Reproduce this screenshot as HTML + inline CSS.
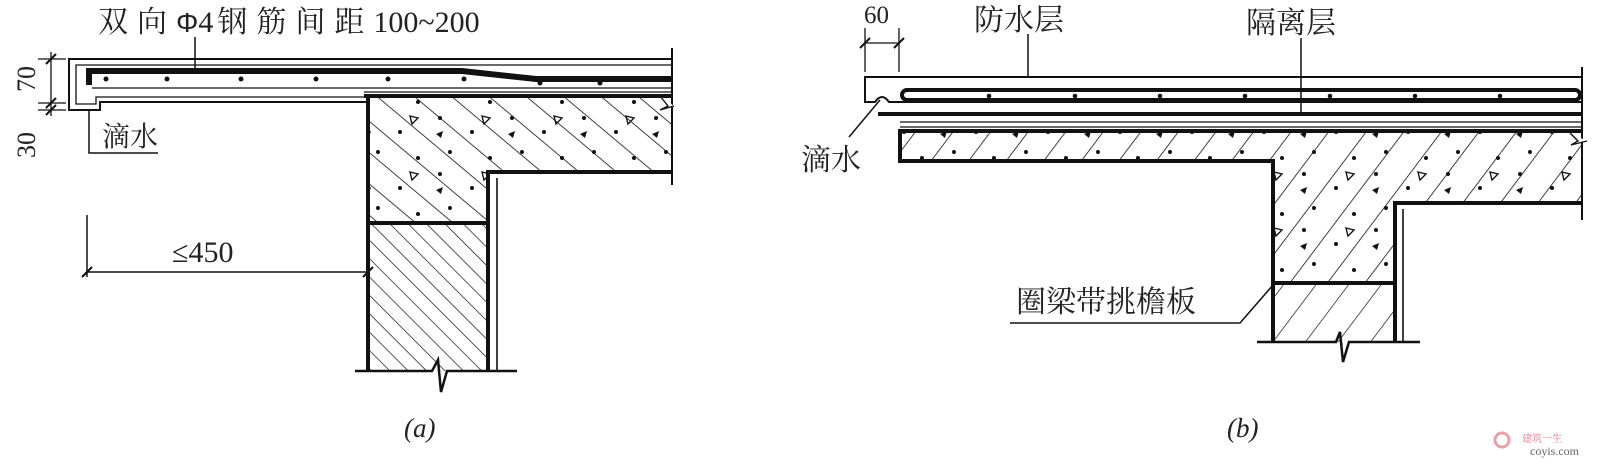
<!DOCTYPE html>
<html><head><meta charset="utf-8"><style>
html,body{margin:0;padding:0;background:#fff;}
svg{display:block;}
text{font-family:"Liberation Serif","Noto Serif CJK SC",serif;fill:#222;}
</style></head><body>
<svg width="1600" height="470" viewBox="0 0 1600 470" xmlns="http://www.w3.org/2000/svg">
<defs>
<pattern id="ca" patternUnits="userSpaceOnUse" width="24" height="20" patternTransform="rotate(-50)"><line x1="0" y1="-5" x2="0" y2="25" stroke="#111" stroke-width="1.6"/></pattern>
<pattern id="ba" patternUnits="userSpaceOnUse" width="13" height="20" patternTransform="rotate(-45)"><line x1="0" y1="-5" x2="0" y2="25" stroke="#111" stroke-width="1.4"/></pattern>
<pattern id="cb" patternUnits="userSpaceOnUse" width="30" height="20" patternTransform="rotate(37)"><line x1="0" y1="-5" x2="0" y2="25" stroke="#111" stroke-width="1.6"/></pattern>
<pattern id="cbs" patternUnits="userSpaceOnUse" width="26" height="20" patternTransform="rotate(37)"><line x1="0" y1="-5" x2="0" y2="25" stroke="#111" stroke-width="1.4"/></pattern>
<pattern id="dots" patternUnits="userSpaceOnUse" width="72" height="56">
<circle cx="8" cy="6" r="2" fill="#111"/><circle cx="40" cy="20" r="2" fill="#111"/><circle cx="18" cy="40" r="2" fill="#111"/><circle cx="58" cy="46" r="2" fill="#111"/><path d="M50 4 l8 2 -6 6z" fill="none" stroke="#111" stroke-width="1.4"/><path d="M4 22 l7 -3 -2 7z" fill="#111"/>
</pattern>
</defs>

<!-- ===== Panel (a) ===== -->
<text x="98" y="32" font-size="30"><tspan letter-spacing="9">双向</tspan><tspan font-family="Liberation Sans,sans-serif" font-size="28">Φ</tspan>4<tspan letter-spacing="9" dx="4">钢筋间距</tspan>100~200</text>
<line x1="195" y1="37" x2="195" y2="68" stroke="#111" stroke-width="1.5"/>
<!-- dims 70/30 -->
<line x1="51" y1="52" x2="51" y2="116" stroke="#111" stroke-width="1.3"/>
<line x1="38" y1="59" x2="66" y2="59" stroke="#111" stroke-width="1.3"/>
<line x1="38" y1="103" x2="66" y2="103" stroke="#111" stroke-width="1.3"/>
<line x1="38" y1="110" x2="66" y2="110" stroke="#111" stroke-width="1.3"/>
<line x1="46" y1="64" x2="56" y2="54" stroke="#111" stroke-width="2"/>
<line x1="46" y1="108" x2="56" y2="98" stroke="#111" stroke-width="2"/>
<line x1="46" y1="115" x2="56" y2="105" stroke="#111" stroke-width="2"/>
<text font-size="26" transform="translate(35,92) rotate(-90)">70</text>
<text font-size="26" transform="translate(35,158) rotate(-90)">30</text>
<!-- slab outline -->
<path d="M672 59 H69 V110 H100 V102 H368" fill="none" stroke="#111" stroke-width="2"/>
<path d="M672 65 H76 V104 H96 V97 H368" fill="none" stroke="#111" stroke-width="1.3"/>
<line x1="672" y1="48" x2="672" y2="185" stroke="#111" stroke-width="2"/>
<line x1="92" y1="88" x2="672" y2="88" stroke="#111" stroke-width="1.3"/>
<line x1="364" y1="92" x2="672" y2="92" stroke="#111" stroke-width="1.3"/>
<path d="M89 85 V71 H462 L536 79 H672" fill="none" stroke="#111" stroke-width="6"/>
<g fill="#111"><circle cx="106" cy="79" r="2.5"/><circle cx="167" cy="79" r="2.5"/><circle cx="241" cy="79" r="2.5"/><circle cx="316" cy="79" r="2.5"/><circle cx="388" cy="79" r="2.5"/><circle cx="464" cy="79" r="2.5"/><circle cx="540" cy="83" r="2.5"/><circle cx="600" cy="83" r="2.5"/></g>
<!-- drip leader -->
<path d="M89 110 V153 H158" fill="none" stroke="#111" stroke-width="1.5"/>
<text x="102" y="146" font-size="28">滴水</text>
<!-- concrete -->
<path d="M368 96 H672 V172 H488 V223 H368 Z" fill="url(#ca)"/>
<path d="M368 96 H672 V172 H488 V223 H368 Z" fill="url(#dots)"/>
<path d="M368 223 H488 V371 H368 Z" fill="url(#ba)"/>
<line x1="364" y1="96" x2="672" y2="96" stroke="#111" stroke-width="4"/>
<path d="M368 96 V371" stroke="#111" stroke-width="4"/>
<path d="M672 172 H488 V371" fill="none" stroke="#111" stroke-width="4"/>
<line x1="497" y1="178" x2="497" y2="371" stroke="#111" stroke-width="1.6"/>
<line x1="368" y1="223" x2="488" y2="223" stroke="#111" stroke-width="4"/>
<path d="M660 96 l8 10 -8 4 14 -4" fill="#fff" stroke="#111" stroke-width="1.4"/>
<path d="M355 371 H432 L438 360 L441 392 L447 371 H517" fill="none" stroke="#111" stroke-width="2.5"/>
<!-- ≤450 -->
<line x1="87" y1="215" x2="87" y2="277" stroke="#111" stroke-width="1.5"/>
<line x1="87" y1="272" x2="368" y2="272" stroke="#111" stroke-width="1.5"/>
<line x1="82" y1="277" x2="92" y2="267" stroke="#111" stroke-width="2"/>
<line x1="363" y1="277" x2="373" y2="267" stroke="#111" stroke-width="2"/>
<text x="172" y="262" font-size="30">≤450</text>
<text x="404" y="437" font-size="27" font-style="italic">(a)</text>

<!-- ===== Panel (b) ===== -->
<text x="864" y="23" font-size="25">60</text>
<line x1="865" y1="28" x2="865" y2="72" stroke="#111" stroke-width="1.3"/>
<line x1="899" y1="28" x2="899" y2="72" stroke="#111" stroke-width="1.3"/>
<line x1="865" y1="43" x2="899" y2="43" stroke="#111" stroke-width="1.3"/>
<line x1="860" y1="48" x2="870" y2="38" stroke="#111" stroke-width="2"/>
<line x1="894" y1="48" x2="904" y2="38" stroke="#111" stroke-width="2"/>
<text x="974" y="30" font-size="30">防水层</text>
<line x1="1028" y1="34" x2="1028" y2="77" stroke="#111" stroke-width="1.5"/>
<text x="1246" y="33" font-size="30">隔离层</text>
<line x1="1301" y1="38" x2="1301" y2="115" stroke="#111" stroke-width="1.5"/>
<!-- slab -->
<path d="M1582 77 H865 V102 H875 Q882 92 889 102 H1582" fill="none" stroke="#111" stroke-width="2"/>
<line x1="1582" y1="67" x2="1582" y2="220" stroke="#111" stroke-width="2"/>
<path d="M1575 90 H907 A5 5 0 0 0 907 100 H1575 A5 5 0 0 0 1575 90" fill="none" stroke="#111" stroke-width="4"/>
<g fill="#111"><circle cx="989" cy="96" r="2.3"/><circle cx="1075" cy="96" r="2.3"/><circle cx="1160" cy="96" r="2.3"/><circle cx="1245" cy="96" r="2.3"/><circle cx="1330" cy="96" r="2.3"/><circle cx="1415" cy="96" r="2.3"/><circle cx="1500" cy="96" r="2.3"/></g>
<line x1="878" y1="114" x2="1582" y2="114" stroke="#111" stroke-width="4"/>
<line x1="900" y1="122" x2="1582" y2="122" stroke="#111" stroke-width="1.3"/>
<line x1="900" y1="127" x2="1582" y2="127" stroke="#111" stroke-width="1.3"/>
<!-- concrete -->
<path d="M900 131 H1582 V203 H1395 V283 H1273 V161 H900 Z" fill="url(#cb)"/>
<path d="M900 131 H1582 V203 H1395 V283 H1273 V161 H900 Z" fill="url(#dots)"/>
<path d="M1273 283 H1395 V342 H1273 Z" fill="url(#cbs)"/>
<path d="M1582 131 H900 V161 H1273 V342" fill="none" stroke="#111" stroke-width="4"/>
<path d="M1582 203 H1395 V342" fill="none" stroke="#111" stroke-width="4"/>
<line x1="1403" y1="209" x2="1403" y2="342" stroke="#111" stroke-width="1.6"/>
<line x1="1273" y1="283" x2="1395" y2="283" stroke="#111" stroke-width="4"/>
<path d="M1570 133 l8 8 -7 4 16 -4" fill="#fff" stroke="#111" stroke-width="1.4"/>
<path d="M1257 342 H1336 L1340 332 L1343 362 L1349 342 H1420" fill="none" stroke="#111" stroke-width="2.5"/>
<!-- labels -->
<line x1="849" y1="137" x2="880" y2="100" stroke="#111" stroke-width="1.5"/>
<text x="801" y="170" font-size="30">滴水</text>
<text x="1016" y="312" font-size="30">圈梁带挑檐板</text>
<path d="M1010 323 H1240 L1273 285" fill="none" stroke="#111" stroke-width="1.5"/>
<text x="1227" y="437" font-size="27" font-style="italic">(b)</text>

<!-- watermark -->
<circle cx="1502" cy="440" r="7" fill="none" stroke="#e9a0a8" stroke-width="3"/>
<text x="1522" y="442" font-size="10" style="fill:#e07080" font-family="Noto Sans CJK SC,sans-serif">建筑一生</text>
<text x="1530" y="455" font-size="12" style="fill:#666">coyis.com</text>
</svg>
</body></html>
